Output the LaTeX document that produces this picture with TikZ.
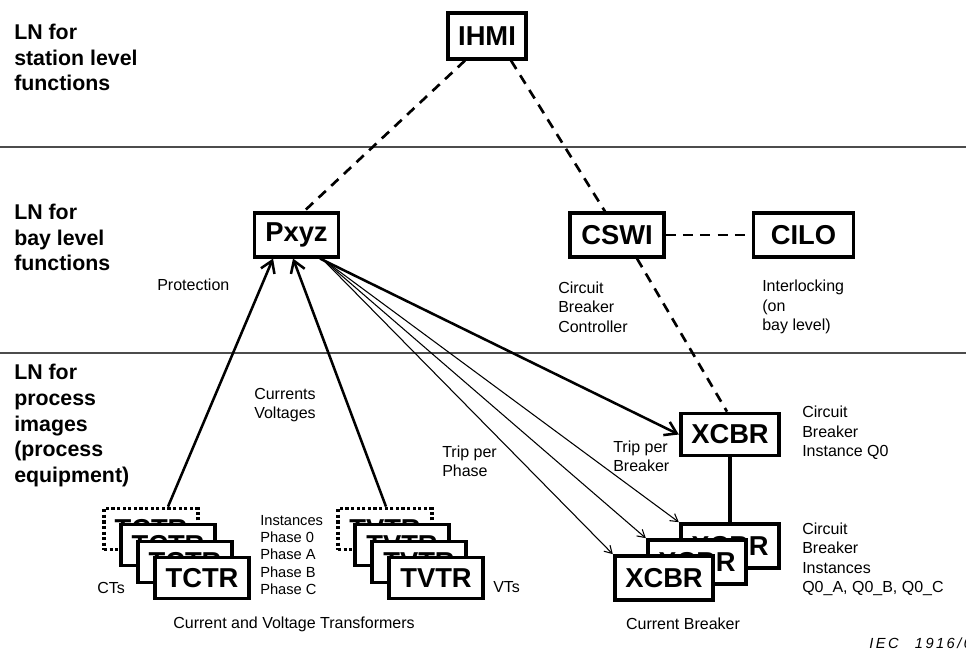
\documentclass[tikz,border=0pt]{standalone}
\usepackage{fontspec}
\setmainfont{Liberation Sans}
\usetikzlibrary{arrows.meta}

\tikzset{
    lnbox/.style={draw, line width=2.8pt, fill=white, inner sep=0pt,
        font=\fontsize{20.5}{24}\selectfont\bfseries, minimum height=32.5pt},
    lnboxdot/.style={lnbox, dash pattern=on 2.4pt off 1.8pt},
    levtext/.style={font=\fontsize{16}{19.3}\selectfont\bfseries, align=left, anchor=west, inner sep=0pt},
    smalltext/.style={font=\fontsize{12}{14.6}\selectfont, align=left, anchor=west, inner sep=0pt},
    levline/.style={line width=1pt, black!70},
    conn/.style={line width=2pt, dash pattern=on 7.5pt off 5.5pt},
    feed/.style={line width=1.9pt, -{Straight Barb[length=8.5pt,width=11pt]}},
    trip/.style={line width=0.8pt, -{Straight Barb[length=5.5pt,width=6.5pt]}},
}

\begin{document}
\begin{tikzpicture}[x=0.75pt, y=-0.75pt]
    \useasboundingbox (0,0) rectangle (966,651);

    \draw[levline] (0,147) -- (966,147);
    \draw[levline] (0,353) -- (966,353);

    \node[levtext] (lvstation) at (14,57.5) {LN for\\station level\\functions};
    \node[levtext] (lvbay) at (14,237.5) {LN for\\bay level\\functions};
    \node[levtext] (lvprocess) at (14,425.5) {LN for\\process\\images\\(process\\equipment)};

    \node[lnbox, minimum width=59pt, minimum height=34pt] (IHMI) at (487,36) {IHMI};
    \node[lnbox, minimum width=63pt] (Pxyz) at (296.5,235) {Pxyz};
    \node[lnbox, minimum width=70pt] (CSWI) at (617,235) {CSWI};
    \node[lnbox, minimum width=75pt] (CILO) at (803.5,235) {CILO};
    \node[lnbox, minimum width=74pt, minimum height=31.5pt] (XCBR0) at (730,434.5) {XCBR};

    % current transformers
    \node[lnboxdot, minimum width=70.5pt, minimum height=30.75pt] (TCTR0) at (151,529) {TCTR};
    \node[lnbox, minimum width=70.5pt, minimum height=30.75pt] (TCTRA) at (168,545) {TCTR};
    \node[lnbox, minimum width=70.5pt, minimum height=30.75pt] (TCTRB) at (185,562) {TCTR};
    \node[lnbox, minimum width=70.5pt, minimum height=30.75pt] (TCTRC) at (202,578) {TCTR};

    % voltage transformers
    \node[lnboxdot, minimum width=70.5pt, minimum height=30.75pt] (TVTR0) at (385,529) {TVTR};
    \node[lnbox, minimum width=70.5pt, minimum height=30.75pt] (TVTRA) at (402,545) {TVTR};
    \node[lnbox, minimum width=70.5pt, minimum height=30.75pt] (TVTRB) at (419,562) {TVTR};
    \node[lnbox, minimum width=70.5pt, minimum height=30.75pt] (TVTRC) at (436,578) {TVTR};

    % breaker phases
    \node[lnbox, minimum width=74pt, minimum height=33pt] (XCBRA) at (730,546) {XCBR};
    \node[lnbox, minimum width=74pt, minimum height=33pt] (XCBRB) at (697,562) {XCBR};
    \node[lnbox, minimum width=74pt, minimum height=33pt] (XCBRC) at (664,578) {XCBR};

    \node[smalltext] (prot) at (157,285) {Protection};
    \node[smalltext] (cbctl) at (558,307) {Circuit\\Breaker\\Controller};
    \node[smalltext] (ilock) at (762,307) {Interlocking\\(on\\bay level)};
    \node[smalltext] (curvolt) at (254,405) {Currents\\Voltages};
    \node[smalltext] (tripph) at (442,461) {Trip per\\Phase};
    \node[smalltext] (tripbr) at (613,456) {Trip per\\Breaker};
    \node[smalltext] (cbq0) at (802,433) {Circuit\\Breaker\\Instance Q0};
    \node[smalltext] (cbqabc) at (802,559.5) {Circuit\\Breaker\\Instances\\Q0\_A, Q0\_B, Q0\_C};
    \node[smalltext, font=\fontsize{11}{12.9}\selectfont] (inst) at (260,555) {Instances\\Phase 0\\Phase A\\Phase B\\Phase C};
    \node[smalltext] (cts) at (97,588) {CTs};
    \node[smalltext] (vts) at (493,587) {VTs};
    \node[smalltext, anchor=center] (cvtrans) at (294,624) {Current and Voltage Transformers};
    \node[smalltext, anchor=center] (cbreak) at (683,624) {Current Breaker};
    \node[smalltext, font=\fontsize{11}{13}\selectfont\itshape] (iec) at (869,643) {I\,E\,C\ \ \ \ 1\,9\,1\,6\,/\,0};

    \draw[conn] ([xshift=-16.5pt]IHMI.south) -- ([xshift=5.5pt]Pxyz.north);
    \draw[conn] ([xshift=18pt]IHMI.south) -- ([xshift=-9pt]CSWI.north);
    \draw[conn] (CSWI) -- (CILO);
    \draw[conn] ([xshift=15pt]CSWI.south) -- ([xshift=-2.25pt]XCBR0.north);
    \draw[line width=2.4pt] (XCBR0.south) -- (XCBRA.north);

    \draw[feed] ([xshift=12.75pt]TCTR0.north) -- ([xshift=-17.6pt]Pxyz.south);
    \draw[feed] ([xshift=0.75pt]TVTR0.north) -- ([xshift=-2.6pt]Pxyz.south);
    \draw[feed] ([xshift=17.6pt]Pxyz.south) -- (XCBR0.west);
    \draw[trip] ([xshift=19pt]Pxyz.south) -- (XCBRA.north west);
    \draw[trip] ([xshift=19pt]Pxyz.south) -- (XCBRB.north west);
    \draw[trip] ([xshift=19pt]Pxyz.south) -- (XCBRC.north west);
\end{tikzpicture}
\end{document}
